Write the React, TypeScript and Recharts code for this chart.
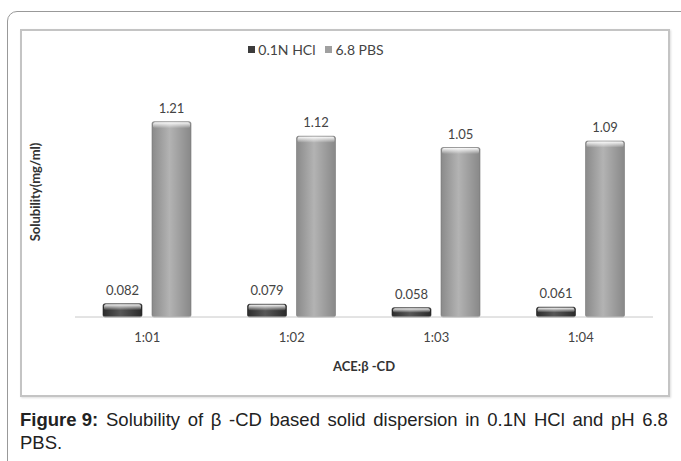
import React from 'react';
import { Bar, BarChart, LabelList, Legend, XAxis, YAxis } from 'recharts';

const ratios = ['1:01', '1:02', '1:03', '1:04'];
const hclValues = [0.082, 0.079, 0.058, 0.061];
const pbsValues = [1.21, 1.12, 1.05, 1.09];
const seriesNames = ['0.1N HCl', '6.8 PBS'];

const data = ratios.map((ratio, i) => ({
  ratio,
  hcl: hclValues[i],
  pbs: pbsValues[i],
}));

const chartFont = 'Lato, "Open Sans", sans-serif';
const captionFont = '"Liberation Sans", Arial, sans-serif';
const captionStyle: React.CSSProperties = {
  position: 'absolute', fontFamily: captionFont, fontSize: 18.5, lineHeight: '23px', color: '#222', whiteSpace: 'nowrap',
};

// bevelled bar: shaded body plus a bright cap along the top edge
const shadedBar = (gradId: string, edge: string) => (props: any) => {
  const { x, y, width, height } = props;
  if (!height || height <= 0) return null;
  const cap = Math.min(6, height / 2);
  return (
    <g>
      <rect x={x} y={y} width={width} height={height} rx={2} fill={`url(#${gradId})`} stroke={edge} strokeWidth={0.6} />
      <rect x={x + 1} y={y + 0.5} width={width - 2} height={cap} rx={2} fill="url(#capShine)" />
    </g>
  );
};

const LegendBox = (props: any) => {
  const items = props.payload || [];
  return (
    <div style={{ display: 'flex', justifyContent: 'center', gap: 10, fontFamily: chartFont, fontSize: 14, color: '#444', marginLeft: -56 }}>
      {items.map((item: any) => (
        <span key={item.value} style={{ display: 'flex', alignItems: 'center' }}>
          <span style={{ width: 7, height: 7, background: item.color, marginRight: 3, display: 'inline-block' }} />
          {item.value}
        </span>
      ))}
    </div>
  );
};

const YTitle = (props: any) => {
  const { viewBox } = props;
  const cx = viewBox.x;
  const cy = viewBox.y + viewBox.height / 2 - 12;
  return (
    <text x={cx} y={cy} transform={`rotate(-90 ${cx} ${cy})`} textAnchor="middle" dominantBaseline="central"
      fontFamily={chartFont} fontSize={13} fontWeight="bold" fill="#333">
      Solubility(mg/ml)
    </text>
  );
};

export default function App() {
  return (
    <div style={{ position: 'absolute', left: 0, top: 0, width: 681, height: 461, background: '#fff', overflow: 'hidden' }}>
      <div style={{ position: 'absolute', left: 7, top: 11, width: 700, height: 480, border: '1px solid #999', borderRadius: 10 }} />
      <div style={{ position: 'absolute', left: 20, top: 29, width: 646, height: 364, border: '2px solid #c4c4c4', boxShadow: '1px 1px 2px #ddd', background: '#fff' }}>
        <BarChart width={646} height={364} data={data} margin={{ top: 43, right: 15, bottom: 0, left: 13 }} barSize={39} barGap={10}>
          <defs>
            <linearGradient id="darkBody" x1="0" y1="0" x2="1" y2="0">
              <stop offset="0%" stopColor="#2c2c2c" />
              <stop offset="45%" stopColor="#575757" />
              <stop offset="100%" stopColor="#2a2a2a" />
            </linearGradient>
            <linearGradient id="lightBody" x1="0" y1="0" x2="1" y2="0">
              <stop offset="0%" stopColor="#8a8a8a" />
              <stop offset="45%" stopColor="#b3b3b3" />
              <stop offset="100%" stopColor="#888" />
            </linearGradient>
            <linearGradient id="capShine" x1="0" y1="0" x2="0" y2="1">
              <stop offset="0%" stopColor="#fff" stopOpacity={0.95} />
              <stop offset="100%" stopColor="#fff" stopOpacity={0} />
            </linearGradient>
          </defs>
          <Legend verticalAlign="top" align="center" wrapperStyle={{ top: 10 }} content={<LegendBox />} />
          <XAxis
            dataKey="ratio"
            axisLine={{ stroke: '#c8c8c8' }}
            tickLine={false}
            tick={{ fontFamily: chartFont, fontSize: 13, fill: '#444' }}
            tickMargin={10}
            height={78}
            label={{ value: 'ACE:β -CD', position: 'insideBottom', offset: 24, style: { fontFamily: chartFont, fontSize: 13, fontWeight: 'bold', fill: '#333' } }}
          />
          <YAxis domain={[0, 1.4]} width={40} axisLine={false} tickLine={false} tick={false} label={<YTitle />} />
          <Bar dataKey="hcl" name={seriesNames[0]} fill="#3c3c3c" shape={shadedBar('darkBody', '#222')} isAnimationActive={false}>
            <LabelList dataKey="hcl" position="top" offset={9} style={{ fontFamily: chartFont, fontSize: 13, fill: '#444' }} />
          </Bar>
          <Bar dataKey="pbs" name={seriesNames[1]} fill="#a0a0a0" shape={shadedBar('lightBody', '#777')} isAnimationActive={false}>
            <LabelList dataKey="pbs" position="top" offset={9} style={{ fontFamily: chartFont, fontSize: 13, fill: '#444' }} />
          </Bar>
        </BarChart>
      </div>
      {/* caption, laid out line by line */}
      <div style={{ ...captionStyle, left: 20, top: 408, fontWeight: 'bold' }}>Figure 9:</div>
      <div style={{ ...captionStyle, left: 106, top: 408, width: 562, display: 'flex', justifyContent: 'space-between' }}>
        {'Solubility of β -CD based solid dispersion in 0.1N HCl and pH 6.8'.split(' ').map((w, i) => (
          <span key={i}>{w}</span>
        ))}
      </div>
      <div style={{ ...captionStyle, left: 20, top: 431 }}>PBS.</div>
    </div>
  );
}
